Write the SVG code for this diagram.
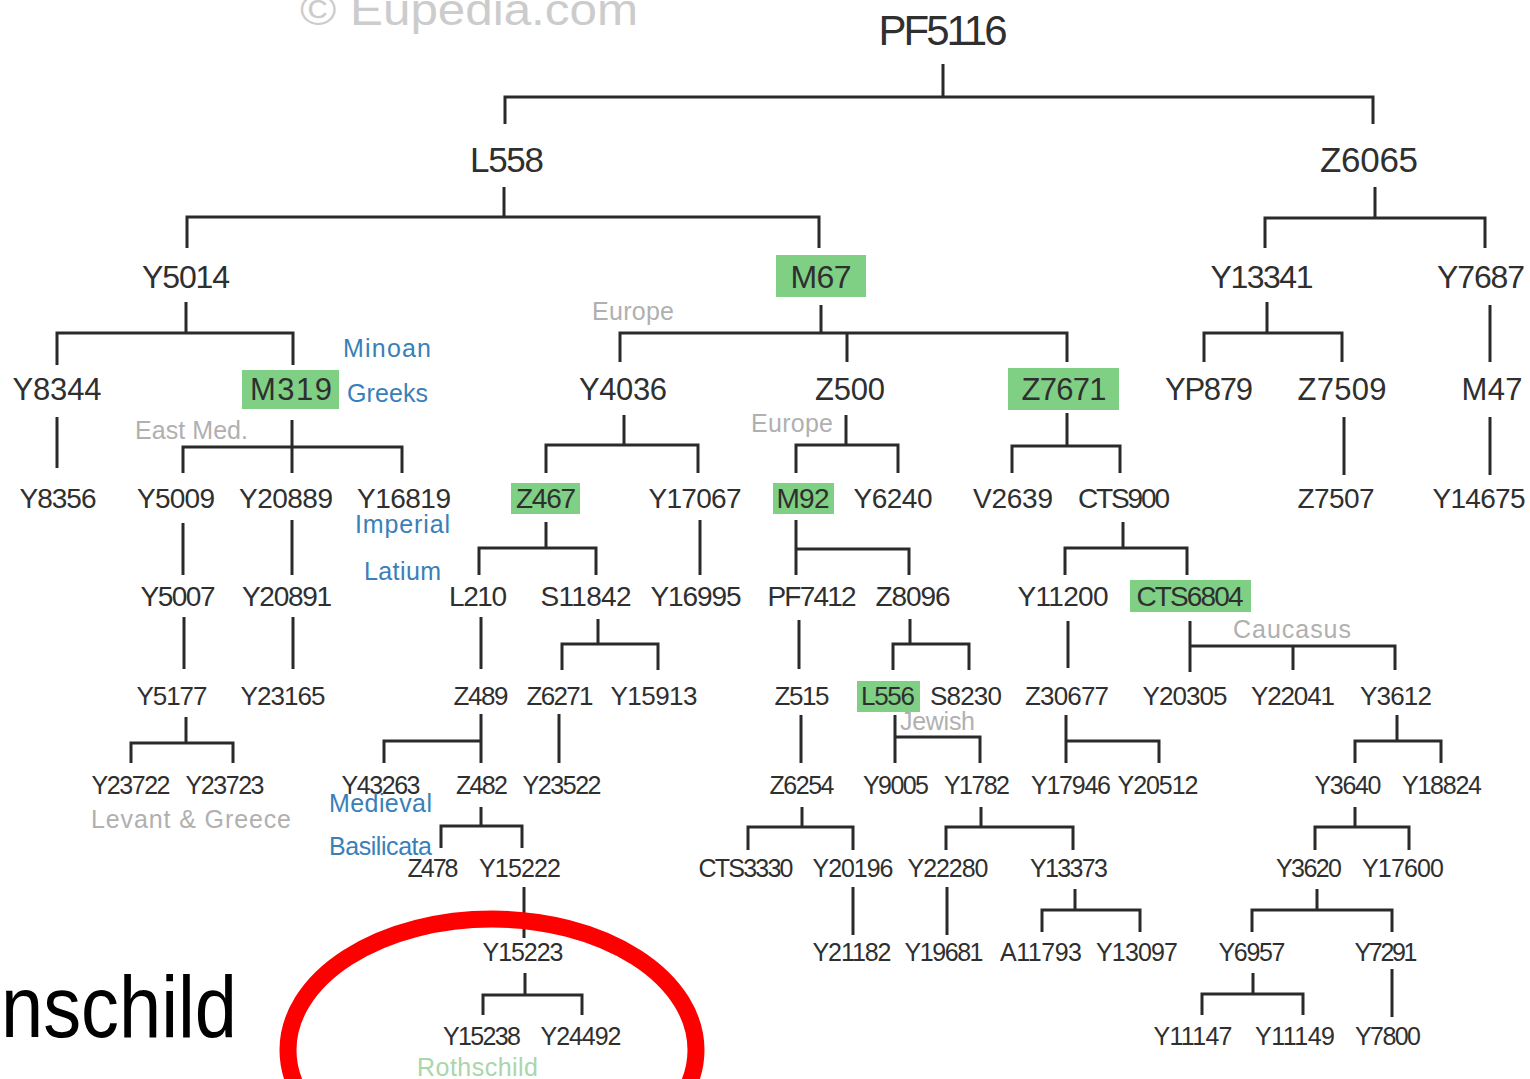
<svg xmlns="http://www.w3.org/2000/svg" width="1530" height="1079" viewBox="0 0 1530 1079">
<style>
text{font-family:"Liberation Sans",Arial,sans-serif;lengthAdjust:spacingAndGlyphs}
.n{fill:#2f2f2f;text-anchor:middle}
.r0{font-size:42px}.r1{font-size:35px}.r2{font-size:32px}.r3{font-size:31px}.r4{font-size:28px}.r5{font-size:28px}.r6{font-size:26px}.r7{font-size:25px}
.hl{fill:#7fcf85}
.blue{fill:#3a80b8;font-size:25px}
.gray{fill:#b0b0b0;font-size:25px}
.rg{fill:#a9d6aa;font-size:25px}
.c path{fill:none;stroke:#2a2a2a;stroke-width:3}
</style>
<rect width="1530" height="1079" fill="#ffffff"/>
<text x="300" y="25" font-size="44" fill="#cccccc" textLength="338" lengthAdjust="spacingAndGlyphs">© Eupedia.com</text>

<g class="c" id="connectors">
<path d="M943 64 V97 M505 124 V97 H1373 V124"/>
<path d="M504 187 V217 M187 248 V217 H819 V248"/>
<path d="M1375 187 V218 M1265 248 V218 H1485 V248"/>
<path d="M186 302 V333 M57 365 V333 H293 V365"/>
<path d="M821 305 V333 M620 362 V333 H1067 V362 M847 333 V362"/>
<path d="M1267 302 V333 M1204 362 V333 H1342 V362"/>
<path d="M1490 305 V362"/>
<path d="M57 417 V468"/>
<path d="M292 420 V473 M183 473 V447 H402 V473"/>
<path d="M624 415 V445 M546 473 V445 H698 V473"/>
<path d="M846 415 V445 M796 473 V445 H898 V473"/>
<path d="M1067 413 V446 M1012 473 V446 H1120 V473"/>
<path d="M1344 417 V475"/>
<path d="M1490 417 V475"/>
<path d="M183 523 V575"/>
<path d="M292 520 V575"/>
<path d="M546 522 V548 M479 575 V548 H596 V575"/>
<path d="M700 520 V575"/>
<path d="M796 520 V575 M796 549 H909 V575"/>
<path d="M1123 522 V548 M1065 575 V548 H1187 V575"/>
<path d="M184 617 V669"/>
<path d="M293 617 V669"/>
<path d="M481 617 V669"/>
<path d="M598 619 V644 M562 670 V644 H658 V670"/>
<path d="M799 620 V669"/>
<path d="M910 619 V644 M893 670 V644 H969 V670"/>
<path d="M1068 621 V668"/>
<path d="M1190 621 V672 M1190 646 H1395 V670 M1293 646 V670"/>
<path d="M186 717 V743 M131 763 V743 H233 V763"/>
<path d="M481 714 V763 M384 763 V741 H481"/>
<path d="M559 714 V763"/>
<path d="M801 715 V763"/>
<path d="M895 715 V763 M895 737 H980 V763"/>
<path d="M1066 715 V763 M1066 741 H1159 V763"/>
<path d="M1397 715 V741 M1355 763 V741 H1441 V763"/>
<path d="M481 807 V826 M441 848 V826 H522 V848"/>
<path d="M802 807 V827 M748 850 V827 H853 V850"/>
<path d="M981 807 V827 M946 850 V827 H1073 V850"/>
<path d="M1355 807 V827 M1315 850 V827 H1409 V850"/>
<path d="M524 887 V938"/>
<path d="M853 887 V935"/>
<path d="M947 887 V935"/>
<path d="M1075 889 V910 M1042 932 V910 H1140 V932"/>
<path d="M1317 889 V910 M1252 932 V910 H1392 V932"/>
<path d="M525 973 V995 M483 1015 V995 H582 V1015"/>
<path d="M1253 973 V994 M1202 1015 V994 H1303 V1015"/>
<path d="M1392 969 V1017"/>
</g>

<g id="n-PF5116"><text class="n r0" x="943" y="45" textLength="129">PF5116</text></g>
<g id="n-L558"><text class="n r1" x="507" y="172" textLength="74">L558</text></g>
<g id="n-Z6065"><text class="n r1" x="1369" y="172" textLength="98">Z6065</text></g>

<g id="n-Y5014"><text class="n r2" x="186" y="288" textLength="88">Y5014</text></g>
<g id="n-M67"><rect class="hl" x="776" y="255" width="90" height="42"/><text class="n r2" x="821" y="288" textLength="61">M67</text></g>
<g id="n-Y13341"><text class="n r2" x="1262" y="288" textLength="103">Y13341</text></g>
<g id="n-Y7687"><text class="n r2" x="1481" y="288" textLength="88">Y7687</text></g>

<g id="n-Y8344"><text class="n r3" x="57" y="400" textLength="89">Y8344</text></g>
<g id="n-M319"><rect class="hl" x="242" y="370" width="97" height="39"/><text class="n r3" x="291" y="400" textLength="82">M319</text></g>
<g id="n-Y4036"><text class="n r3" x="623" y="400" textLength="88">Y4036</text></g>
<g id="n-Z500"><text class="n r3" x="850" y="400" textLength="70">Z500</text></g>
<g id="n-Z7671"><rect class="hl" x="1008" y="368" width="111" height="42"/><text class="n r3" x="1064" y="400" textLength="85">Z7671</text></g>
<g id="n-YP879"><text class="n r3" x="1209" y="400" textLength="88">YP879</text></g>
<g id="n-Z7509"><text class="n r3" x="1342" y="400" textLength="89">Z7509</text></g>
<g id="n-M47"><text class="n r3" x="1492" y="400" textLength="61">M47</text></g>

<g id="n-Y8356"><text class="n r4" x="58" y="508" textLength="77">Y8356</text></g>
<g id="n-Y5009"><text class="n r4" x="176" y="508" textLength="78">Y5009</text></g>
<g id="n-Y20889"><text class="n r4" x="286" y="508" textLength="94">Y20889</text></g>
<g id="n-Y16819"><text class="n r4" x="404" y="508" textLength="94">Y16819</text></g>
<g id="n-Z467"><rect class="hl" x="511" y="483" width="69" height="31"/><text class="n r4" x="546" y="508" textLength="60">Z467</text></g>
<g id="n-Y17067"><text class="n r4" x="695" y="508" textLength="93">Y17067</text></g>
<g id="n-M92"><rect class="hl" x="773" y="483" width="61" height="31"/><text class="n r4" x="803" y="508" textLength="53">M92</text></g>
<g id="n-Y6240"><text class="n r4" x="893" y="508" textLength="79">Y6240</text></g>
<g id="n-V2639"><text class="n r4" x="1013" y="508" textLength="80">V2639</text></g>
<g id="n-CTS900"><text class="n r4" x="1124" y="508" textLength="92">CTS900</text></g>
<g id="n-Z7507"><text class="n r4" x="1336" y="508" textLength="77">Z7507</text></g>
<g id="n-Y14675"><text class="n r4" x="1479" y="508" textLength="93">Y14675</text></g>

<g id="n-Y5007"><text class="n r5" x="178" y="606" textLength="75">Y5007</text></g>
<g id="n-Y20891"><text class="n r5" x="287" y="606" textLength="90">Y20891</text></g>
<g id="n-L210"><text class="n r5" x="478" y="606" textLength="58">L210</text></g>
<g id="n-S11842"><text class="n r5" x="586" y="606" textLength="91">S11842</text></g>
<g id="n-Y16995"><text class="n r5" x="696" y="606" textLength="91">Y16995</text></g>
<g id="n-PF7412"><text class="n r5" x="812" y="606" textLength="89">PF7412</text></g>
<g id="n-Z8096"><text class="n r5" x="913" y="606" textLength="75">Z8096</text></g>
<g id="n-Y11200"><text class="n r5" x="1063" y="606" textLength="91">Y11200</text></g>
<g id="n-CTS6804"><rect class="hl" x="1130" y="580" width="121" height="32"/><text class="n r5" x="1190" y="606" textLength="107">CTS6804</text></g>

<g id="n-Y5177"><text class="n r6" x="172" y="705" textLength="71">Y5177</text></g>
<g id="n-Y23165"><text class="n r6" x="283" y="705" textLength="85">Y23165</text></g>
<g id="n-Z489"><text class="n r6" x="481" y="705" textLength="55">Z489</text></g>
<g id="n-Z6271"><text class="n r6" x="560" y="705" textLength="67">Z6271</text></g>
<g id="n-Y15913"><text class="n r6" x="654" y="705" textLength="87">Y15913</text></g>
<g id="n-Z515"><text class="n r6" x="802" y="705" textLength="55">Z515</text></g>
<g id="n-L556"><rect class="hl" x="857" y="681" width="63" height="31"/><text class="n r6" x="888" y="705" textLength="54">L556</text></g>
<g id="n-S8230"><text class="n r6" x="966" y="705" textLength="72">S8230</text></g>
<g id="n-Z30677"><text class="n r6" x="1067" y="705" textLength="84">Z30677</text></g>
<g id="n-Y20305"><text class="n r6" x="1185" y="705" textLength="85">Y20305</text></g>
<g id="n-Y22041"><text class="n r6" x="1293" y="705" textLength="84">Y22041</text></g>
<g id="n-Y3612"><text class="n r6" x="1396" y="705" textLength="72">Y3612</text></g>

<g id="n-Y23722"><text class="n r7" x="131" y="794" textLength="79">Y23722</text></g>
<g id="n-Y23723"><text class="n r7" x="225" y="794" textLength="79">Y23723</text></g>
<g id="n-Y43263"><text class="n r7" x="381" y="794" textLength="79">Y43263</text></g>
<g id="n-Z482"><text class="n r7" x="482" y="794" textLength="52">Z482</text></g>
<g id="n-Y23522"><text class="n r7" x="562" y="794" textLength="79">Y23522</text></g>
<g id="n-Z6254"><text class="n r7" x="802" y="794" textLength="65">Z6254</text></g>
<g id="n-Y9005"><text class="n r7" x="896" y="794" textLength="66">Y9005</text></g>
<g id="n-Y1782"><text class="n r7" x="977" y="794" textLength="66">Y1782</text></g>
<g id="n-Y17946"><text class="n r7" x="1071" y="794" textLength="80">Y17946</text></g>
<g id="n-Y20512"><text class="n r7" x="1158" y="794" textLength="81">Y20512</text></g>
<g id="n-Y3640"><text class="n r7" x="1348" y="794" textLength="67">Y3640</text></g>
<g id="n-Y18824"><text class="n r7" x="1442" y="794" textLength="80">Y18824</text></g>

<g id="n-Z478"><text class="n r7" x="433" y="877" textLength="51">Z478</text></g>
<g id="n-Y15222"><text class="n r7" x="520" y="877" textLength="82">Y15222</text></g>
<g id="n-CTS3330"><text class="n r7" x="746" y="877" textLength="95">CTS3330</text></g>
<g id="n-Y20196"><text class="n r7" x="853" y="877" textLength="81">Y20196</text></g>
<g id="n-Y22280"><text class="n r7" x="948" y="877" textLength="81">Y22280</text></g>
<g id="n-Y13373"><text class="n r7" x="1069" y="877" textLength="78">Y13373</text></g>
<g id="n-Y3620"><text class="n r7" x="1309" y="877" textLength="66">Y3620</text></g>
<g id="n-Y17600"><text class="n r7" x="1403" y="877" textLength="82">Y17600</text></g>

<g id="n-Y15223"><text class="n r7" x="523" y="961" textLength="81">Y15223</text></g>
<g id="n-Y21182"><text class="n r7" x="852" y="961" textLength="79">Y21182</text></g>
<g id="n-Y19681"><text class="n r7" x="944" y="961" textLength="79">Y19681</text></g>
<g id="n-A11793"><text class="n r7" x="1041" y="961" textLength="82">A11793</text></g>
<g id="n-Y13097"><text class="n r7" x="1137" y="961" textLength="82">Y13097</text></g>
<g id="n-Y6957"><text class="n r7" x="1252" y="961" textLength="67">Y6957</text></g>
<g id="n-Y7291"><text class="n r7" x="1386" y="961" textLength="63">Y7291</text></g>

<g id="n-Y15238"><text class="n r7" x="482" y="1045" textLength="78">Y15238</text></g>
<g id="n-Y24492"><text class="n r7" x="581" y="1045" textLength="81">Y24492</text></g>
<g id="n-Y11147"><text class="n r7" x="1193" y="1045" textLength="79">Y11147</text></g>
<g id="n-Y11149"><text class="n r7" x="1295" y="1045" textLength="80">Y11149</text></g>
<g id="n-Y7800"><text class="n r7" x="1388" y="1045" textLength="66">Y7800</text></g>

<g id="labels">
<text class="blue" x="343" y="357" font-size="26" textLength="88">Minoan</text>
<text class="blue" x="347" y="402" textLength="81">Greeks</text>
<text class="blue" x="355" y="533" font-size="24" textLength="95">Imperial</text>
<text class="blue" x="364" y="580" font-size="24" textLength="77">Latium</text>
<text class="blue" x="329" y="812" font-size="24" textLength="103">Medieval</text>
<text class="blue" x="329" y="855" font-size="24" textLength="103">Basilicata</text>
<text class="gray" x="592" y="320" textLength="82">Europe</text>
<text class="gray" x="751" y="432" font-size="24" textLength="82">Europe</text>
<text class="gray" x="135" y="439" font-size="24" textLength="113">East Med.</text>
<text class="gray" x="1233" y="638" textLength="118">Caucasus</text>
<text class="gray" x="900" y="730" font-size="24" textLength="75">Jewish</text>
<text class="gray" x="91" y="828" textLength="200">Levant &amp; Greece</text>
<text class="rg" x="417" y="1076" font-size="24" textLength="121">Rothschild</text>
</g>

<text x="237" y="1037" font-size="88" fill="#000000" text-anchor="end" textLength="236" lengthAdjust="spacingAndGlyphs">nschild</text>
<ellipse cx="492" cy="1050" rx="204" ry="131" fill="none" stroke="#ff0000" stroke-width="17"/>
</svg>
